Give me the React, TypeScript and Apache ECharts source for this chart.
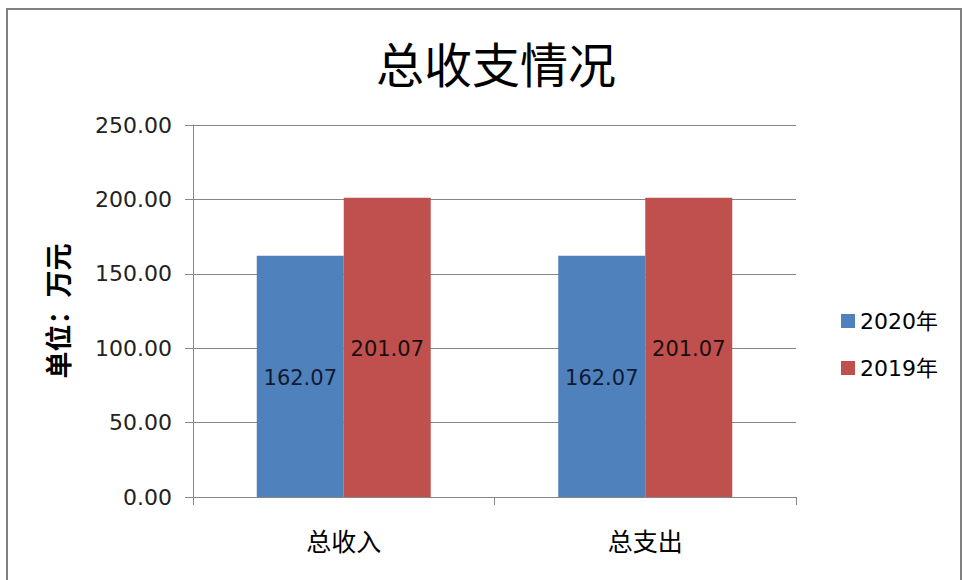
import React, { useEffect, useRef } from "react";
import * as echarts from "echarts";

const categories = ["总收入", "总支出"];
const seriesNames = ["2020年", "2019年"];
const values2020 = [162.07, 162.07];
const values2019 = [201.07, 201.07];
const yTicks = { min: 0, max: 250, interval: 50 };

export default function App() {
  const ref = useRef<HTMLDivElement>(null);
  useEffect(() => {
    document.body.style.margin = "0";
    const chart = echarts.init(ref.current!, null, { renderer: "svg" });
    const font = "'DejaVu Sans', 'Noto Sans CJK SC', sans-serif";
    chart.setOption({
      animation: false,
      backgroundColor: "#ffffff",
      title: {
        text: "总收支情况",
        left: 371,
        top: 33,
        textStyle: { fontSize: 48, fontWeight: "normal", color: "#000", fontFamily: "'Noto Sans CJK SC', sans-serif" },
      },
      graphic: [
        {
          type: "rect",
          shape: { x: 7, y: 9, width: 954, height: 580 },
          style: { fill: "none", stroke: "#808080", lineWidth: 2 },
          silent: true,
        },
      ],
      legend: {
        orient: "vertical",
        left: 836,
        top: 305,
        itemWidth: 14,
        itemHeight: 14,
        itemGap: 25,
        icon: "rect",
        textStyle: { fontSize: 22, color: "#000", fontFamily: font },
        data: seriesNames,
      },
      grid: { left: 193, right: 166, top: 125, bottom: 83 },
      xAxis: {
        type: "category",
        data: categories,
        axisLine: { lineStyle: { color: "#868686", width: 1 } },
        axisTick: { show: true, length: 8, lineStyle: { color: "#868686" } },
        axisLabel: { fontSize: 25, color: "#000", margin: 30, fontFamily: "'Noto Sans CJK SC', sans-serif" },
      },
      yAxis: {
        type: "value",
        min: yTicks.min,
        max: yTicks.max,
        interval: yTicks.interval,
        name: "单位：万元",
        nameLocation: "middle",
        nameGap: 122,
        nameRotate: 90,
        nameTextStyle: { fontSize: 27, fontWeight: "bold", color: "#000", fontFamily: "'Noto Sans CJK SC', serif" },
        axisLine: { show: true, lineStyle: { color: "#868686", width: 1 } },
        axisTick: { show: true, inside: false, length: 8, lineStyle: { color: "#868686" } },
        splitLine: { show: true, lineStyle: { color: "#868686", width: 1 } },
        axisLabel: {
          fontSize: 22,
          color: "#222",
          margin: 21,
          fontFamily: font,
          formatter: (v: number) => v.toFixed(2),
        },
      },
      series: [
        {
          name: seriesNames[0],
          type: "bar",
          data: values2020,
          barWidth: 87,
          barGap: "0%",
          itemStyle: { color: "#4F81BD" },
          label: {
            show: true,
            position: "inside",
            offset: [0, 2],
            fontSize: 21,
            color: "#0f1a33",
            fontFamily: font,
            formatter: (p: any) => p.value.toFixed(2),
          },
        },
        {
          name: seriesNames[1],
          type: "bar",
          data: values2019,
          barWidth: 87,
          barGap: "0%",
          itemStyle: { color: "#C0504D" },
          label: {
            show: true,
            position: "inside",
            offset: [0, 2],
            fontSize: 21,
            color: "#1a0d0d",
            fontFamily: font,
            formatter: (p: any) => p.value.toFixed(2),
          },
        },
      ],
    });
    return () => chart.dispose();
  }, []);
  return <div ref={ref} style={{ width: 962, height: 580 }} />;
}
